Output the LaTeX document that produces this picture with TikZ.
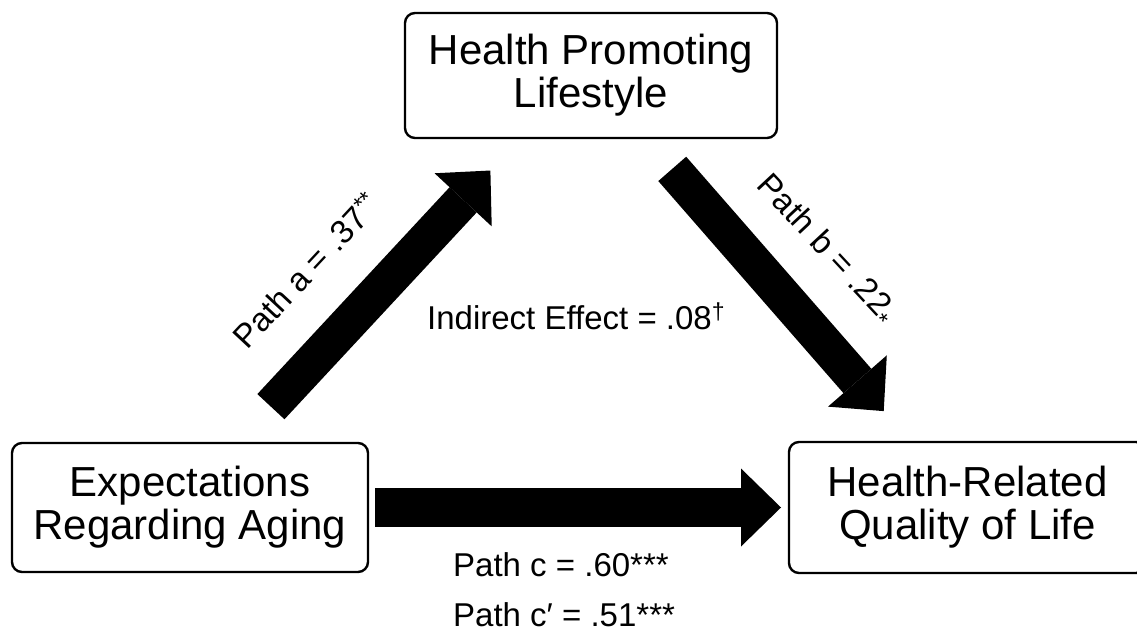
\documentclass[tikz,border=0pt]{standalone}
\usepackage{fontspec}
\setmainfont{Liberation Sans}
\usetikzlibrary{arrows.meta,positioning,calc}

\begin{document}
\begin{tikzpicture}[x=1pt,y=-1pt,
  box/.style={draw,line width=2.4pt,rounded corners=10pt,align=center,inner sep=0pt,outer sep=0pt,
    font=\fontsize{42}{43}\selectfont},
  bigarrow/.style={line width=37pt,-{Triangle[length=40pt,width=78pt,line width=0pt]}},
  lbl/.style={inner sep=0pt,font=\fontsize{33}{35}\selectfont}]
  \useasboundingbox (0,0) rectangle (1137,636);
  % the three variables
  \node[box,minimum width=372pt,minimum height=125pt] (hpl) at (591,75.5) {Health Promoting\\Lifestyle};
  \node[box,minimum width=356pt,minimum height=129pt] (exp) at (190,507.5) {Expectations\\Regarding Aging};
  \node[box,minimum width=357pt,minimum height=131pt] (hrq) at (967.5,507.5) {Health-Related\\Quality of Life};
  % paths
  \draw[bigarrow,line width=39pt,shorten <=7pt,shorten >=8pt] (exp) -- (hrq);
  \draw[bigarrow,shorten <=41pt,shorten >=53pt,transform canvas={shift={(-6.8pt,6.3pt)}}] (exp) -- (hpl);
  \draw[bigarrow,shorten <=41pt,shorten >=41pt] (hpl) -- (hrq);
  % coefficients
  \node[lbl,rotate=47] (pa) at (306,270) {Path a = .37\textsuperscript{**}};
  \node[lbl,rotate=-47] (pb) at (826,250) {Path b = .22\textsubscript{*}};
  \node[lbl,anchor=base west] (ie) at (427,329) {Indirect Effect = .08\textsuperscript{†}};
  \node[lbl,anchor=base west] (pc) at (453,576) {Path c = .60***};
  \node[lbl,anchor=base west] (pcp) at (453,626) {Path c′ = .51***};
\end{tikzpicture}
\end{document}
